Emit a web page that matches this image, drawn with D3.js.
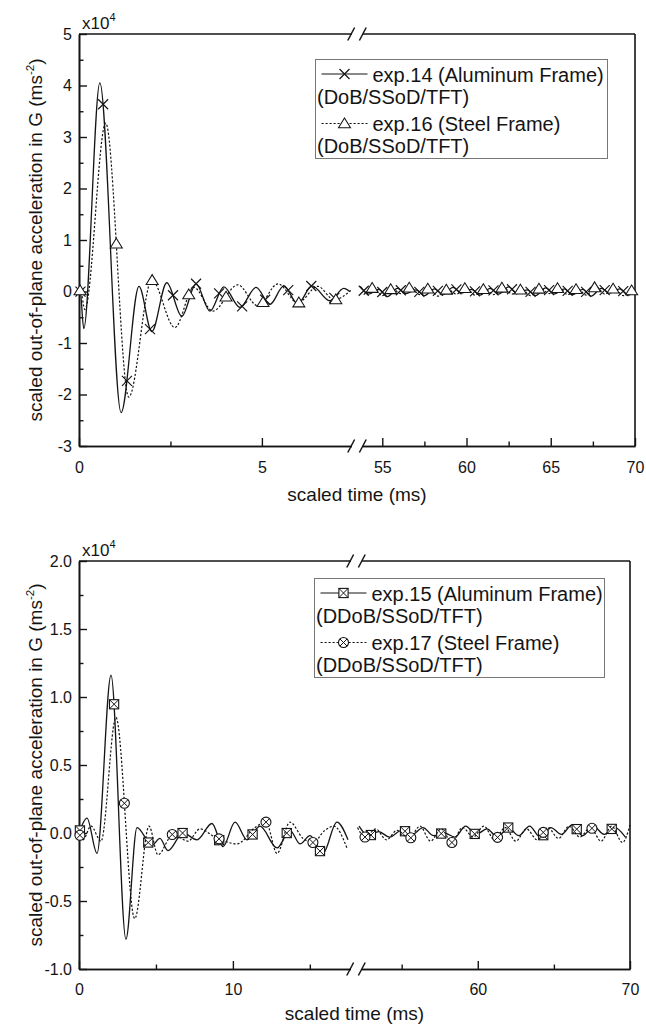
<!DOCTYPE html>
<html><head><meta charset="utf-8">
<script src="https://cdn.jsdelivr.net/npm/d3@7"></script>
<style>
body{margin:0;background:#fff}
svg{display:block}
</style>
</head><body>
<svg id="c" width="646" height="1026"></svg>
<script>
// ================= DATA =================
// ---- top panel (exp.14 / exp.16), values in x10^4 ----
const topTickXL = [0, 5];
const topMinorXL = [2.5];
const topTickXR = [55, 60, 65, 70];
const topMinorXR = [57.5, 62.5, 67.5];
const topTickY = [-3, -2, -1, 0, 1, 2, 3, 4, 5];
const topMinorY = [-2.5, -1.5, -0.5, 0.5, 1.5, 2.5, 3.5, 4.5];

const exp14T = [0.00, 0.03, 0.13, 0.57, 1.15, 1.64, 1.99, 2.40, 2.81, 3.20, 3.58, 3.96, 4.40, 4.84, 5.22, 5.60, 5.98, 6.37, 6.86, 7.24, 7.40,
  53.7, 54.2, 54.8, 55.3, 55.9, 56.4, 57.0, 57.5, 58.1, 58.6, 59.2, 59.7, 60.3, 60.8, 61.4, 61.9, 62.5, 63.0, 63.6, 64.1, 64.7, 65.2, 65.8, 66.3, 66.9, 67.4, 68.0, 68.5, 69.1, 69.6, 70.0];
const exp14V = [0.00, 0.02, -0.72, 4.05, -2.35, 0.10, -0.78, 0.17, -0.48, 0.15, -0.38, 0.09, -0.31, 0.08, -0.25, 0.11, -0.24, 0.11, -0.18, 0.06, 0.00,
  0.10, -0.05, 0.04, -0.10, 0.06, -0.04, 0.03, -0.08, 0.05, -0.06, 0.08, -0.03, 0.04, -0.07, 0.06, -0.05, 0.09, -0.04, 0.03, -0.08, 0.07, -0.05, 0.05, -0.06, 0.04, -0.09, 0.06, -0.03, 0.05, -0.07, 0.02];

const exp16T = [0.00, 0.04, 0.16, 0.73, 1.36, 1.99, 2.62, 3.14, 3.66, 4.34, 4.89, 5.44, 5.98, 6.53, 6.97, 7.43,
  53.9, 54.5, 55.0, 55.6, 56.1, 56.7, 57.2, 57.8, 58.3, 58.9, 59.4, 60.0, 60.5, 61.1, 61.6, 62.2, 62.7, 63.3, 63.8, 64.4, 64.9, 65.5, 66.0, 66.6, 67.1, 67.7, 68.2, 68.8, 69.3, 69.9];
const exp16V = [0.00, 0.02, -0.35, 3.27, -2.05, 0.22, -0.70, 0.08, -0.38, 0.13, -0.28, 0.15, -0.22, 0.10, -0.16, 0.02,
  -0.06, 0.07, -0.08, 0.05, -0.04, 0.08, -0.06, 0.06, -0.09, 0.04, -0.05, 0.07, -0.07, 0.05, -0.06, 0.08, -0.05, 0.04, -0.08, 0.06, -0.04, 0.07, -0.06, 0.05, -0.07, 0.09, -0.05, 0.06, -0.08, 0.05];

const exp14MarkT = [0.04, 0.66, 1.31, 1.94, 2.57, 3.20, 3.83, 4.46, 5.09, 5.72, 6.35, 6.98,
  53.9, 55.0, 56.1, 57.2, 58.3, 59.4, 60.5, 61.6, 62.7, 63.8, 64.9, 66.0, 67.1, 68.2, 69.3];
const exp16MarkT = [0.03, 1.02, 2.00, 3.00, 4.02, 5.03, 6.01, 7.02,
  54.4, 55.5, 56.6, 57.7, 58.8, 59.9, 61.0, 62.1, 63.2, 64.3, 65.4, 66.5, 67.6, 68.7, 69.8];

// ---- bottom panel (exp.15 / exp.17), values in x10^4 ----
const botTickXL = [0, 10];
const botMinorXL = [5, 15];
const botTickXR = [60, 70];
const botMinorXR = [55, 65];
const botTickY = [-1.0, -0.5, 0.0, 0.5, 1.0, 1.5, 2.0];
const botMinorY = [-0.75, -0.25, 0.25, 0.75, 1.25, 1.75];

const exp15T = [0.00, 0.52, 1.17, 2.08, 3.05, 3.77, 4.74, 5.26, 5.78, 6.76, 7.67, 8.64, 9.36, 10.14, 10.92, 11.76, 12.87, 13.71, 14.36, 15.01, 15.85, 16.76, 17.48,
  52.2, 52.8, 53.5, 54.2, 55.0, 55.7, 56.4, 57.1, 57.8, 58.5, 59.2, 59.9, 60.6, 61.3, 62.0, 62.7, 63.4, 64.1, 64.8, 65.5, 66.2, 66.9, 67.6, 68.3, 69.0, 69.7];
const exp15V = [0.00, 0.11, -0.15, 1.16, -0.78, 0.04, -0.09, -0.04, -0.13, 0.00, -0.05, 0.07, -0.10, 0.08, -0.05, 0.05, -0.11, 0.02, -0.08, -0.02, -0.15, 0.08, -0.05,
  0.05, -0.02, 0.01, -0.03, 0.02, -0.01, 0.04, -0.02, 0.00, -0.03, 0.05, -0.01, 0.03, -0.03, 0.04, -0.02, 0.05, -0.03, 0.04, -0.01, 0.06, -0.02, 0.05, -0.01, 0.04, -0.03];

const exp17T = [0.00, 0.26, 0.78, 1.43, 2.40, 3.62, 4.55, 5.13, 6.11, 7.08, 7.86, 8.84, 10.27, 11.44, 12.15, 12.87, 13.71, 14.56, 15.20, 15.98, 16.57, 17.41,
  52.1, 52.6, 53.3, 54.0, 54.7, 55.5, 56.2, 56.9, 57.6, 58.3, 59.0, 59.7, 60.4, 61.1, 61.8, 62.5, 63.2, 63.9, 64.6, 65.3, 66.0, 66.7, 67.4, 68.1, 68.8, 69.5, 70.0];
const exp17V = [0.00, -0.05, 0.05, -0.06, 0.85, -0.63, 0.05, -0.16, -0.01, -0.06, 0.03, -0.03, -0.08, 0.04, 0.08, -0.15, 0.08, -0.04, -0.07, 0.02, 0.05, -0.11,
  0.04, -0.03, 0.03, -0.05, 0.02, -0.04, 0.05, -0.06, 0.03, -0.07, 0.04, -0.03, 0.05, -0.05, 0.04, -0.06, 0.03, -0.05, 0.04, -0.04, 0.05, -0.03, 0.04, -0.06, 0.05, -0.07, 0.06];

const exp15MarkT = [0.06, 2.28, 4.50, 6.73, 9.11, 11.28, 13.50, 15.66,
  52.98, 55.22, 57.60, 59.80, 62.00, 64.30, 66.50, 68.80];
const exp17MarkT = [0.06, 2.95, 6.06, 9.10, 12.15, 15.20,
  52.59, 55.60, 58.30, 61.30, 64.30, 67.50];

const yLabelMain = "scaled out-of-plane acceleration in G (ms";
const xLabel = "scaled time (ms)";
const legendTop = ["exp.14 (Aluminum Frame)", "(DoB/SSoD/TFT)", "exp.16 (Steel Frame)", "(DoB/SSoD/TFT)"];
const legendBot = ["exp.15 (Aluminum Frame)", "(DDoB/SSoD/TFT)", "exp.17 (Steel Frame)", "(DDoB/SSoD/TFT)"];

// ================= DRAWING =================
const FONT = '"Liberation Sans", Arial, Helvetica, sans-serif';
const INK = "#141414";
const svg = d3.select("#c");

function zipTV(T, V) { return T.map((t, i) => [t, V[i]]); }

function pointAtX(path, px) {
  const L = path.getTotalLength();
  let lo = 0, hi = L;
  for (let i = 0; i < 40; i++) {
    const mid = (lo + hi) / 2;
    const p = path.getPointAtLength(mid);
    if (p.x < px) lo = mid; else hi = mid;
  }
  return path.getPointAtLength((lo + hi) / 2);
}

function marker(g, type, cx, cy) {
  const s = g.append("g").attr("transform", `translate(${cx},${cy})`)
    .attr("stroke", INK).attr("stroke-width", 1).attr("fill", "#fff");
  if (type === "x") {
    s.append("path").attr("d", "M-5,-5L5,5M-5,5L5,-5").attr("fill", "none").attr("stroke-width", 1.15);
  } else if (type === "tri") {
    s.append("path").attr("d", "M0,-5.6L6,4.2L-6,4.2Z").attr("stroke-width", 1.05);
  } else if (type === "sqx") {
    s.append("rect").attr("x", -4.6).attr("y", -4.6).attr("width", 9.2).attr("height", 9.2).attr("stroke-width", 1.1);
    s.append("path").attr("d", "M-4.6,-4.6L4.6,4.6M-4.6,4.6L4.6,-4.6").attr("fill", "none");
  } else if (type === "cx") {
    s.append("circle").attr("r", 5).attr("stroke-width", 1.1);
    s.append("path").attr("d", "M-3.5,-3.5L3.5,3.5M-3.5,3.5L3.5,-3.5").attr("fill", "none");
  }
}

function panel(o) {
  const g = svg.append("g");
  const xL = d3.scaleLinear().domain(o.segL).range([o.x0, o.brk]);
  const xR = d3.scaleLinear().domain(o.segR).range([o.brk, o.x1]);
  const X = t => (t <= o.segL[1] ? xL(t) : xR(t));
  const y = d3.scaleLinear().domain(o.yDom).range([o.y1, o.y0]);

  const styleAxis = sel => {
    sel.attr("font-family", FONT).attr("font-size", 16);
    sel.selectAll("text").attr("fill", INK);
    sel.selectAll("line").attr("stroke", INK).attr("stroke-width", 1.4);
    sel.selectAll(".domain").attr("stroke", INK).attr("stroke-width", 1.6);
  };

  // bottom axis, two segments
  [[xL, o.xMajL, o.xMinL], [xR, o.xMajR, o.xMinR]].forEach(([sc, maj, min]) => {
    g.append("g").attr("transform", `translate(0,${o.y1})`)
      .call(d3.axisBottom(sc).tickValues(min).tickSize(-4.5).tickSizeOuter(0).tickFormat(() => ""))
      .call(styleAxis);
    g.append("g").attr("transform", `translate(0,${o.y1})`)
      .call(d3.axisBottom(sc).tickValues(maj).tickSize(-8).tickSizeOuter(0).tickPadding(o.xPad).tickFormat(d => String(d)))
      .call(styleAxis);
  });
  // left axis
  g.append("g").attr("transform", `translate(${o.x0},0)`)
    .call(d3.axisLeft(y).tickValues(o.yMin).tickSize(-4.5).tickSizeOuter(0).tickFormat(() => ""))
    .call(styleAxis);
  g.append("g").attr("transform", `translate(${o.x0},0)`)
    .call(d3.axisLeft(y).tickValues(o.yMaj).tickSize(-8).tickSizeOuter(0).tickPadding(7).tickFormat(o.yFmt))
    .call(styleAxis);
  // top and right border
  g.append("line").attr("x1", o.x0).attr("x2", o.x1).attr("y1", o.y0).attr("y2", o.y0).attr("stroke", INK).attr("stroke-width", 1.6);
  g.append("line").attr("x1", o.x1).attr("x2", o.x1).attr("y1", o.y0).attr("y2", o.y1).attr("stroke", INK).attr("stroke-width", 1.6);

  // break marks on top and bottom axes
  [o.y0, o.y1].forEach(yy => {
    g.append("rect").attr("x", o.brk - 5).attr("y", yy - 2).attr("width", 11).attr("height", 4).attr("fill", "#fff");
    [-5.8, 5.8].forEach(dx => {
      g.append("line").attr("x1", o.brk + dx - 3.4).attr("y1", yy + 6.5).attr("x2", o.brk + dx + 3.4).attr("y2", yy - 6.5)
        .attr("stroke", INK).attr("stroke-width", 1.5);
    });
  });

  // series
  const line = d3.line().x(d => X(d[0])).y(d => y(d[1])).curve(d3.curveMonotoneX);
  o.series.forEach(s => {
    const pts = zipTV(s.T, s.V);
    const segs = [pts.filter(d => d[0] <= o.segL[1]), pts.filter(d => d[0] >= o.segR[0])];
    const paths = segs.map(seg => g.append("path").datum(seg).attr("d", line)
      .attr("fill", "none").attr("stroke", INK).attr("stroke-width", s.dash ? 1.2 : 1.3)
      .attr("stroke-dasharray", s.dash ? "2.2,1.8" : null).node());
    s.M.forEach(t => {
      const p = t <= o.segL[1] ? paths[0] : paths[1];
      const pt = pointAtX(p, X(t));
      marker(g, s.mk, pt.x, pt.y);
    });
  });

  // multiplier label
  const mt = g.append("text").attr("x", o.x0 + 3).attr("y", o.y0 - 5).attr("font-family", FONT).attr("font-size", 17).attr("fill", INK);
  mt.append("tspan").text("x10");
  mt.append("tspan").attr("font-size", 11).attr("dy", -8).text("4");

  // y label
  const cy = (o.y0 + o.y1) / 2;
  const yl = g.append("text").attr("transform", `translate(42,${cy}) rotate(-90)`).attr("text-anchor", "middle")
    .attr("font-family", FONT).attr("font-size", 19).attr("fill", INK);
  yl.append("tspan").text(yLabelMain);
  yl.append("tspan").attr("font-size", 11.5).attr("dy", -8).text("-2");
  yl.append("tspan").attr("dy", 8).text(")");

  // x label
  g.append("text").attr("x", (o.x0 + o.x1) / 2).attr("y", o.y1 + o.titleDy).attr("text-anchor", "middle")
    .attr("font-family", FONT).attr("font-size", 19).attr("fill", INK).text(xLabel);

  // legend
  const lg = g.append("g").attr("transform", `translate(${o.lgx},${o.lgy})`);
  lg.append("rect").attr("x", 0).attr("y", 0).attr("width", o.lgw).attr("height", 99)
    .attr("fill", "#fff").attr("stroke", "#777").attr("stroke-width", 1);
  const rowsY = [22.5, 44.5, 71.5, 93.5];
  const symY = [14.5, 64];
  o.series.forEach((s, i) => {
    lg.append("line").attr("x1", 6).attr("x2", 52).attr("y1", symY[i]).attr("y2", symY[i])
      .attr("stroke", INK).attr("stroke-width", s.dash ? 1 : 1.2).attr("stroke-dasharray", s.dash ? "2.2,1.8" : null);
    marker(lg, s.mk, 29, symY[i]);
  });
  o.legend.forEach((txt, i) => {
    lg.append("text").attr("x", i % 2 === 0 ? 57 : 1.5).attr("y", rowsY[i])
      .attr("font-family", FONT).attr("font-size", 20).attr("fill", INK).text(txt);
  });
}

panel({
  x0: 79, x1: 635, brk: 357, y0: 34, y1: 446,
  segL: [0, 7.6], segR: [53.5, 70], yDom: [-3, 5],
  xMajL: topTickXL, xMinL: topMinorXL, xMajR: topTickXR, xMinR: topMinorXR,
  yMaj: topTickY, yMin: topMinorY, yFmt: d => String(d), xPad: 16, titleDy: 55,
  series: [
    { T: exp14T, V: exp14V, M: exp14MarkT, mk: "x", dash: false },
    { T: exp16T, V: exp16V, M: exp16MarkT, mk: "tri", dash: true }
  ],
  legend: legendTop, lgx: 315.5, lgy: 59.5, lgw: 292
});

panel({
  x0: 79, x1: 630, brk: 356, y0: 561, y1: 969,
  segL: [0, 18], segR: [52, 70], yDom: [-1, 2],
  xMajL: botTickXL, xMinL: botMinorXL, xMajR: botTickXR, xMinR: botMinorXR,
  yMaj: botTickY, yMin: botMinorY, yFmt: d => d.toFixed(1), xPad: 15, titleDy: 51,
  series: [
    { T: exp15T, V: exp15V, M: exp15MarkT, mk: "sqx", dash: false },
    { T: exp17T, V: exp17V, M: exp17MarkT, mk: "cx", dash: true }
  ],
  legend: legendBot, lgx: 314.5, lgy: 578.5, lgw: 290
});
</script>
</body></html>
